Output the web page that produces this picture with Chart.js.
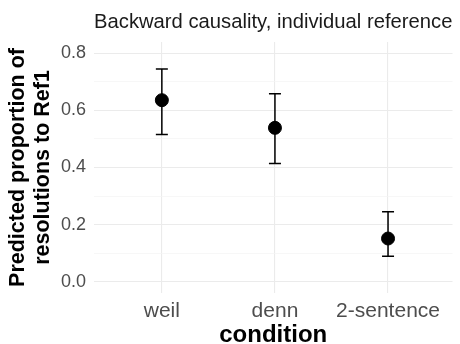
<!DOCTYPE html>
<html>
<head>
<meta charset="utf-8">
<script src="https://cdn.jsdelivr.net/npm/chart.js@4"></script>
<style>
  html, body { margin: 0; padding: 0; background: #fff; }
  #wrap { width: 460px; height: 344px; }
</style>
</head>
<body>
<div id="wrap"><canvas id="chart"></canvas></div>
<script>
// data
const categories = ['weil', 'denn', '2-sentence'];
const estimate = [0.636, 0.539, 0.151];
const lower = [0.516, 0.414, 0.089];
const upper = [0.745, 0.659, 0.245];
const yMajorTicks = [0, 0.2, 0.4, 0.6, 0.8];
const yMinorTicks = [0.1, 0.3, 0.5, 0.7];

const FONT = '"Liberation Sans", Arial, Helvetica, sans-serif';

const isMajor = v => yMajorTicks.some(t => Math.abs(t - v) < 1e-9);

// error bars, drawn under the points
const errorBars = {
    id: 'errorBars',
    beforeDatasetsDraw(chart) {
        const ctx = chart.ctx;
        const xs = chart.scales.x, ys = chart.scales.y;
        ctx.save();
        ctx.strokeStyle = '#000';
        ctx.lineWidth = 1.5;
        categories.forEach((c, i) => {
            const x = xs.getPixelForValue(i);
            const yLo = ys.getPixelForValue(lower[i]);
            const yHi = ys.getPixelForValue(upper[i]);
            ctx.beginPath();
            ctx.moveTo(x, yLo); ctx.lineTo(x, yHi);
            ctx.moveTo(x - 6, yLo); ctx.lineTo(x + 6, yLo);
            ctx.moveTo(x - 6, yHi); ctx.lineTo(x + 6, yHi);
            ctx.stroke();
        });
        ctx.restore();
    }
};

const ctx = document.getElementById('chart').getContext('2d');
new Chart(ctx, {
    type: 'scatter',
    data: {
        datasets: [{
            data: estimate.map((v, i) => ({ x: i, y: v })),
            backgroundColor: '#000',
            borderColor: '#000',
            pointRadius: 6.5,
            pointHoverRadius: 6.5
        }]
    },
    options: {
        responsive: true,
        maintainAspectRatio: false,
        animation: false,
        layout: { padding: 0 },
        plugins: {
            legend: { display: false },
            tooltip: { enabled: false },
            title: {
                display: true,
                text: 'Backward causality, individual reference',
                align: 'start',
                fullSize: false,
                color: '#1a1a1a',
                font: { family: FONT, size: 20.5, weight: 'normal', lineHeight: 1 },
                padding: { top: 12.5, bottom: 9 }
            }
        },
        scales: {
            x: {
                type: 'linear',
                min: -0.6,
                max: 2.57,
                afterBuildTicks: s => { s.ticks = categories.map((c, i) => ({ value: i })); },
                afterFit: s => { s.height = 51; },
                ticks: {
                    callback: v => categories[v],
                    color: '#4d4d4d',
                    font: { family: FONT, size: 21 },
                    padding: 6,
                    maxRotation: 0,
                    autoSkip: false
                },
                grid: { color: '#ebebeb', lineWidth: 1.1, drawTicks: false },
                border: { display: false },
                title: {
                    display: true,
                    text: 'condition',
                    color: '#000',
                    font: { family: FONT, size: 24, weight: 'bold', lineHeight: 0.75 },
                    padding: 0
                }
            },
            y: {
                type: 'linear',
                min: -0.04,
                max: 0.84,
                afterBuildTicks: s => {
                    s.ticks = yMajorTicks.concat(yMinorTicks).sort((a, b) => a - b).map(v => ({ value: v }));
                },
                afterFit: s => { s.width = 94; },
                ticks: {
                    callback: v => isMajor(v) ? v.toFixed(1) : '',
                    color: '#4d4d4d',
                    font: { family: FONT, size: 18 },
                    padding: 8,
                    autoSkip: false
                },
                grid: {
                    drawTicks: false,
                    color: c => isMajor(c.tick.value) ? '#ebebeb' : '#f3f3f3',
                    lineWidth: c => isMajor(c.tick.value) ? 1.1 : 0.7
                },
                border: { display: false },
                title: {
                    display: true,
                    text: ['Predicted proportion of', 'resolutions to Ref1'],
                    color: '#000',
                    font: { family: FONT, size: 21.5, weight: 'bold', lineHeight: 1.17 },
                    padding: { top: 5.5, bottom: 0 }
                }
            }
        }
    },
    plugins: [errorBars]
});
</script>
</body>
</html>
